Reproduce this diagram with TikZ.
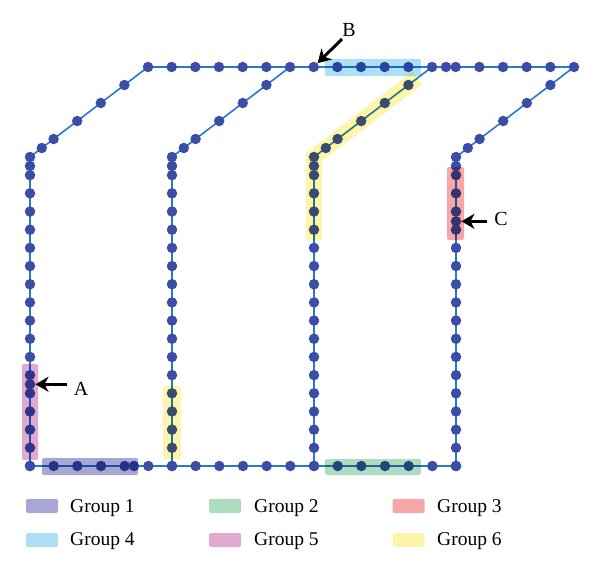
\documentclass[tikz,border=0pt]{standalone}
\usepackage{fontspec}
\setmainfont{Liberation Serif}
\usetikzlibrary{arrows.meta}
\definecolor{linec}{HTML}{2A78CC}
\definecolor{dotc}{HTML}{3A4EA6}
\definecolor{gA}{HTML}{A8A6D2}
\definecolor{gB}{HTML}{AEDCC0}
\definecolor{gC}{HTML}{F6A8A8}
\definecolor{gD}{HTML}{AEE0F3}
\definecolor{gE}{HTML}{E0AAD0}
\definecolor{gF}{HTML}{FDF6AA}
\tikzset{
  dot/.style={circle,fill=dotc,inner sep=0pt,minimum size=10.5pt},
  edge/.style={draw=linec,line width=1.6pt},
  hl/.style={rounded corners=2pt,blend mode=multiply},
  lbl/.style={font=\fontsize{20}{24}\selectfont,inner sep=0pt},
  lgd/.style={font=\fontsize{19.5}{23}\selectfont,inner sep=0pt,anchor=base west},
  swatch/.style={rounded corners=2pt,minimum width=32pt,minimum height=14pt,inner sep=0pt},
  ptr/.style={line width=3pt,-{Stealth[length=13pt,width=15pt,inset=4pt]}}
}
\begin{document}
\begin{tikzpicture}[x=1pt,y=-1pt]
\useasboundingbox (0,0) rectangle (600,571);
% corner coordinates
\foreach \i/\xc in {1/30,2/172,3/314,4/456}{
  \coordinate (b\i) at (\xc,466);
  \coordinate (k\i) at (\xc,157);
  \coordinate (t\i) at (\xc+118,67);
}
% edges
\foreach \i in {1,...,4} \draw[edge] (b\i) -- (k\i) -- (t\i);
\draw[edge] (t1) -- (t4);
\draw[edge] (b1) -- (b4);
% dots
\foreach \i/\xc in {1/30,2/172,3/314,4/456}{
  \foreach \j in {0,...,17} \node[dot] (v\i-\j) at (\xc,157+18.176*\j) {};
  \node[dot] (v\i-h) at (\xc,166) {};
  \foreach \pp [count=\n] in {0.1,0.2,0.4,0.6,0.8}
    \node[dot] (d\i-\n) at (\xc+118*\pp,157-90*\pp) {};
}
\foreach \k in {0,...,18} \node[dot] (top\k) at (148+23.667*\k,67) {};
\node[dot] (topx) at (446,67) {};
\foreach \k in {0,...,18} \node[dot] (bot\k) at (30+23.667*\k,466) {};
\node[dot] (botx) at (134,466) {};
\node[dot] (ptA) at (30,384.3) {};
\node[dot] (ptC) at (456,221.3) {};
% highlights
\fill[gA,hl] (42,458) rectangle (138,475);
\fill[gB,hl] (325,459) rectangle (421,475);
\fill[gC,hl] (447,167) rectangle (464,240);
\fill[gD,hl] (325,59) rectangle (421,76);
\fill[gE,hl] (22,364) rectangle (38,460);
\fill[gF,hl] (163,386) rectangle (181,459);
\draw[gF,line width=16pt,blend mode=multiply,line join=miter] (314,240) -- (314,157) -- (417.5,78.1);
% pointers
\node[lbl] (labB) at (349,30) {B};
\node[lbl] (labA) at (81,389) {A};
\node[lbl] (labC) at (501,219) {C};
\coordinate (tailB) at (342,39);
\coordinate (tailA) at (67,384.3);
\coordinate (tailC) at (487,221.3);
\draw[ptr] (tailB) -- (top7);
\draw[ptr] (tailA) -- (ptA);
\draw[ptr] (tailC) -- (ptC);
% legend
\node[swatch,fill=gA] (s1) at (42,506) {};
\node[swatch,fill=gB] (s2) at (225,506) {};
\node[swatch,fill=gC] (s3) at (408.5,506) {};
\node[swatch,fill=gD] (s4) at (42,540) {};
\node[swatch,fill=gE] (s5) at (225,540) {};
\node[swatch,fill=gF] (s6) at (408.5,540) {};
\node[lgd] (l1) at (70,512) {Group 1};
\node[lgd] (l2) at (254,512) {Group 2};
\node[lgd] (l3) at (437,512) {Group 3};
\node[lgd] (l4) at (70,545) {Group 4};
\node[lgd] (l5) at (254,545) {Group 5};
\node[lgd] (l6) at (437,545) {Group 6};
\end{tikzpicture}
\end{document}
